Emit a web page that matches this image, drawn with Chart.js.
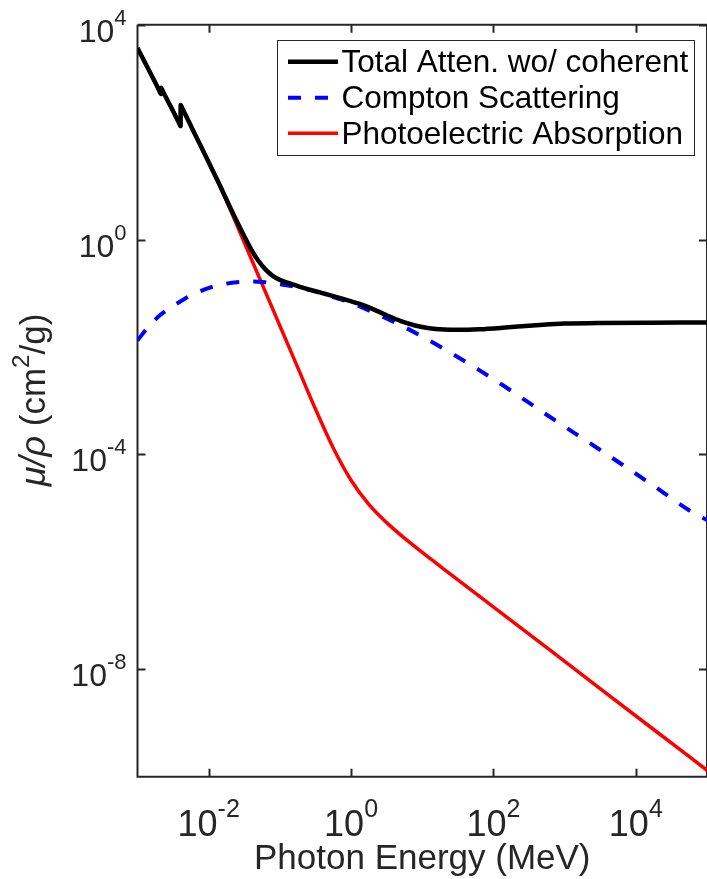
<!DOCTYPE html>
<html><head><meta charset="utf-8">
<script src="https://cdn.jsdelivr.net/npm/chart.js@4/dist/chart.umd.min.js"></script>
<style>html,body{margin:0;padding:0;background:#fff;}#wrap{width:707px;height:879px;}canvas{display:block;}</style>
</head><body><div id="wrap"><canvas id="c" width="707" height="879"></canvas></div>
<script>
// ---- data (energy in MeV, mu/rho in cm^2/g) ----
const seriesLabels = ['Total Atten. wo/ coherent', 'Compton Scattering', 'Photoelectric Absorption'];

const totalEnergy = [0.001, 0.001413, 0.001995, 0.002141, 0.0021455, 0.002239, 0.002818, 0.003802, 0.004032, 0.0040381, 0.004266,
  0.00631, 0.01, 0.01413, 0.01995, 0.02512, 0.03162, 0.03981, 0.05012, 0.0631, 0.07943, 0.1, 0.1413, 0.2089,
  0.3162, 0.5012, 0.7943, 1.259, 1.995, 3.162, 5.012, 7.943, 12.59, 19.95, 31.62, 63.1, 125.9, 251.2, 501.2, 1000, 3162, 15850, 100000];
const totalMu = [3681, 1514, 616.6, 512.9, 669.9, 599.8, 331.1, 151.4, 129.4, 318.4, 275.4,
  95.5, 27.54, 10.72, 3.981, 2.113, 1.148, 0.6457, 0.3981, 0.2754, 0.2113, 0.1778, 0.1514, 0.1274,
  0.1096, 0.09226, 0.07762, 0.06457, 0.05129, 0.0389, 0.0302, 0.02512, 0.02239, 0.02123, 0.02089, 0.02138, 0.02265, 0.02443, 0.026, 0.02723, 0.02805, 0.02838, 0.02844];

const comptonEnergy = [0.001, 0.001413, 0.002065, 0.003162, 0.004624, 0.007079, 0.01035, 0.01778, 0.02754, 0.03981,
  0.05754, 0.1, 0.1698, 0.3162, 0.5012, 1.0, 2.512, 5.623, 12.59, 28.18, 63.1, 147.9, 602.6, 3020, 15140, 64570, 100000];
const comptonMu = [0.01327, 0.02344, 0.03882, 0.05754, 0.07943, 0.1047, 0.1274, 0.1514, 0.1622, 0.166,
  0.1622, 0.1479, 0.1303, 0.1072, 0.0891, 0.06607, 0.0389, 0.02344, 0.01318, 0.007079, 0.003715, 0.001799, 0.0005129, 0.0001259, 3.02e-5, 8.128e-6, 6.026e-6];

const photoEnergy = [0.001, 0.001413, 0.001995, 0.002141, 0.0021455, 0.002239, 0.002818, 0.003802, 0.004032, 0.0040381, 0.004266,
  0.00631, 0.01, 0.01778, 0.03162, 0.05623, 0.1, 0.1778, 0.3162, 0.5623, 1.0, 1.778, 3.162, 5.623, 10,
  25.12, 631, 15850, 100000];
const photoMu = [3681, 1514, 616.6, 512.9, 669.9, 599.8, 331.1, 151.4, 129.4, 318.4, 275.4,
  95.5, 27.54, 5.248, 0.881, 0.1479, 0.02483, 0.004169, 0.0006998, 0.0001318, 3.311e-5, 1.175e-5, 5.37e-6, 2.754e-6, 1.496e-6,
  5.848e-7, 2.239e-8, 8.511e-10, 1.318e-10];

const xTickValues = [1e-2, 1, 1e2, 1e4];
const xTickExponents = ['-2', '0', '2', '4'];
const yTickValues = [1e-8, 1e-4, 1, 1e4];
const yTickExponents = ['-8', '-4', '0', '4'];
const xTitle = 'Photon Energy (MeV)';
const yTitleParts = ['\u03bc/\u03c1', ' (cm', '2', '/g)'];

// ---- chart ----
const AX = '#262626';
const FONT = '"Liberation Sans", Arial, Helvetica, sans-serif';
function pts(xs, ys) { return xs.map((x, i) => ({ x: x, y: ys[i] })); }

function drawPow(ctx, exp, x, y, align, big, small, raise) {
  ctx.font = big + 'px ' + FONT;
  const wb = ctx.measureText('10').width;
  ctx.font = small + 'px ' + FONT;
  const we = ctx.measureText(exp).width;
  const total = wb + we;
  let sx = align === 'center' ? x - total / 2 : x - total;
  ctx.textAlign = 'left';
  ctx.textBaseline = 'alphabetic';
  ctx.font = big + 'px ' + FONT;
  ctx.fillText('10', sx, y);
  ctx.font = small + 'px ' + FONT;
  ctx.fillText(exp, sx + wb, y - raise);
}

const axesPlugin = {
  id: 'matlabAxes',
  beforeDatasetsDraw(chart) {
    const { ctx, chartArea: a } = chart;
    const xs = chart.scales.x, ys = chart.scales.y;
    ctx.save();
    ctx.strokeStyle = AX;
    ctx.lineWidth = 2;
    ctx.beginPath();
    ctx.moveTo(a.left, a.top); ctx.lineTo(a.left, a.bottom); ctx.lineTo(a.right, a.bottom);
    ctx.moveTo(a.left, a.top); ctx.lineTo(a.right, a.top); ctx.lineTo(a.right, a.bottom);
    const tl = 8;
    xTickValues.forEach(v => {
      const px = Math.round(xs.getPixelForValue(v)) + 0.5;
      ctx.moveTo(px, a.bottom); ctx.lineTo(px, a.bottom - tl);
      ctx.moveTo(px, a.top); ctx.lineTo(px, a.top + tl);
    });
    yTickValues.forEach(v => {
      const py = Math.round(ys.getPixelForValue(v)) + 0.5;
      ctx.moveTo(a.left, py); ctx.lineTo(a.left + tl, py);
      ctx.moveTo(a.right, py); ctx.lineTo(a.right - tl, py);
    });
    ctx.stroke();
    ctx.restore();
  },
  afterDraw(chart) {
    const { ctx, chartArea: a } = chart;
    const xs = chart.scales.x, ys = chart.scales.y;
    ctx.save();
    ctx.fillStyle = AX;
    xTickValues.forEach((v, i) => {
      drawPow(ctx, xTickExponents[i], xs.getPixelForValue(v), 836, 'center', 36, 25, 19);
    });
    yTickValues.forEach((v, i) => {
      drawPow(ctx, yTickExponents[i], a.left - 11, ys.getPixelForValue(v) + 17, 'right', 32, 22, 17);
    });
    ctx.font = '35px ' + FONT;
    ctx.textAlign = 'center';
    ctx.fillText(xTitle, (a.left + a.right) / 2, 869);
    ctx.translate(45, 400);
    ctx.rotate(-Math.PI / 2);
    const fI = 'italic 36px ' + FONT, fN = '35px ' + FONT, fS = '24px ' + FONT;
    const fonts = [fI, fN, fS, fN];
    const widths = yTitleParts.map((t, i) => { ctx.font = fonts[i]; return ctx.measureText(t).width; });
    let tx = -widths.reduce((s, w) => s + w, 0) / 2;
    ctx.textAlign = 'left';
    yTitleParts.forEach((t, i) => {
      ctx.font = fonts[i];
      ctx.fillText(t, tx, i === 2 ? -16 : 0);
      tx += widths[i];
    });
    ctx.restore();

    ctx.save();
    const bx = 277.5, by = 40.5, bw = 417, bh = 115;
    ctx.fillStyle = '#fff';
    ctx.fillRect(bx, by, bw, bh);
    ctx.strokeStyle = AX;
    ctx.lineWidth = 1;
    ctx.strokeRect(bx, by, bw, bh);
    const rows = [61.7, 97.7, 133.3];
    chart.data.datasets.forEach((ds, i) => {
      ctx.beginPath();
      ctx.strokeStyle = ds.borderColor;
      ctx.lineWidth = ds.borderWidth;
      ctx.setLineDash(ds.borderDash || []);
      ctx.moveTo(288, rows[i]); ctx.lineTo(338, rows[i]);
      ctx.stroke();
      ctx.setLineDash([]);
      ctx.fillStyle = '#000';
      ctx.font = '31.5px ' + FONT;
      ctx.textAlign = 'left';
      ctx.textBaseline = 'alphabetic';
      ctx.fillText(ds.label, 341.5, rows[i] + 10.5);
    });
    ctx.restore();
  }
};

new Chart(document.getElementById('c'), {
  type: 'line',
  data: {
    datasets: [
      { label: seriesLabels[0], data: pts(totalEnergy, totalMu), borderColor: '#000000', borderWidth: 4.5, pointRadius: 0, cubicInterpolationMode: 'monotone', fill: false },
      { label: seriesLabels[1], data: pts(comptonEnergy, comptonMu), borderColor: '#0000ff', borderWidth: 4, borderDash: [13, 14], pointRadius: 0, cubicInterpolationMode: 'monotone', fill: false },
      { label: seriesLabels[2], data: pts(photoEnergy, photoMu), borderColor: '#ff0000', borderWidth: 3.5, pointRadius: 0, cubicInterpolationMode: 'monotone', fill: false }
    ]
  },
  options: {
    responsive: false,
    animation: false,
    devicePixelRatio: 1,
    layout: { padding: { left: 137.5, top: 24.7, right: -1.7, bottom: 102.3 } },
    plugins: { legend: { display: false }, tooltip: { enabled: false } },
    scales: {
      x: { type: 'logarithmic', min: 1e-3, max: 1e5, display: false },
      y: { type: 'logarithmic', min: 1e-10, max: 1e4, display: false }
    }
  },
  plugins: [axesPlugin]
});
</script></body></html>
